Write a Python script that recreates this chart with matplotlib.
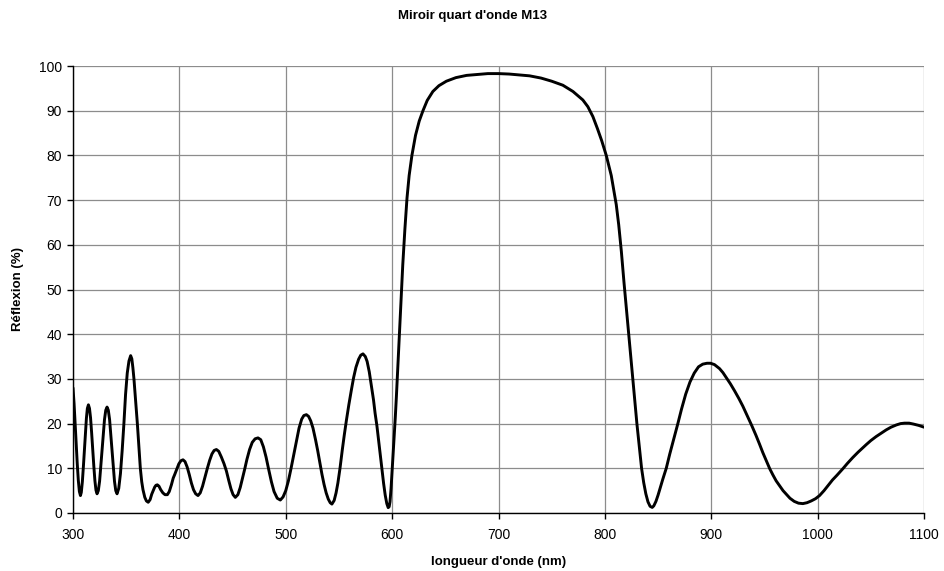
import matplotlib
matplotlib.use("Agg")
import matplotlib.pyplot as plt

plt.rcParams['font.family'] = ['Liberation Sans', 'DejaVu Sans']

title = "Miroir quart d'onde M13"
xlabel = "longueur d'onde (nm)"
ylabel = "Réflexion (%)"
xticks = [300, 400, 500, 600, 700, 800, 900, 1000, 1100]
yticks = [0, 10, 20, 30, 40, 50, 60, 70, 80, 90, 100]

wavelength_a = [300, 301, 302, 303, 304, 305, 306, 307, 307.8, 308.8, 309.8, 310.8,
                311.7, 312.6, 313.5, 314.5, 315.5, 316.5, 317.5, 318.5, 319.6, 320.6,
                321.6, 322.6, 323.8, 325.0, 326.1, 327.3, 328.5, 329.6, 330.8, 332.0,
                333.2, 334.4, 335.5, 336.7, 337.9, 339.0, 340.2, 341.4, 343.0, 344.6,
                346.2, 347.8, 349.4, 351.0, 352.6, 354.2, 355.3, 356.3, 357.3, 358.9,
                360.5, 361.9, 363.3, 364.6, 365.8, 367.5, 369.0, 370.7, 372.5, 374.0,
                375.2, 376.8, 378.0, 379.3, 380.8, 382.5, 384.5, 386.5, 388.7, 390.5,
                392.5, 394.2, 395.6, 397.5, 399.5, 401.5, 403.4, 405.3, 407.3, 409.3,
                411.3, 413.3, 415.3, 417.5, 419.6, 421.8, 424.0, 426.3, 428.5, 430.6,
                432.7, 434.8, 437.0, 439.5, 442.0, 444.2, 446.5, 448.5, 450.5, 452.6,
                455.0, 457.2, 459.4, 461.4, 463.5, 466.0, 468.5, 471.2, 473.9, 476.5,
                479.0, 481.5, 483.9, 486.5, 489.0, 492.0, 494.9, 497.5, 500.0, 502.5,
                505.0, 507.5, 510.0, 512.5, 515.0, 517.0, 519.4, 521.5, 523.5, 525.6,
                528.0, 530.0, 532.0, 534.0, 536.0, 538.0, 540.0, 541.8, 543.4]
reflexion_a = [28.0, 24.5, 20.0, 15.5, 11.0, 7.3, 4.8, 3.9, 4.6, 7.0, 10.5, 14.4,
               18.0, 21.2, 23.4, 24.2, 23.4, 21.3, 18.0, 14.2, 10.4, 7.2,
               5.1, 4.3, 5.0, 7.1, 10.3, 14.0, 17.7, 20.9, 23.0, 23.7,
               23.0, 20.9, 17.7, 14.0, 10.3, 7.1, 5.0, 4.3, 5.5, 8.8,
               13.9, 19.8, 26.5, 31.3, 34.0, 35.2, 34.5, 32.5, 30.0, 25.0,
               20.0, 15.0, 10.0, 7.0, 5.2, 3.5, 2.7, 2.4, 3.0, 4.2,
               4.9, 5.8, 6.2, 6.3, 6.0, 5.2, 4.5, 4.1, 4.1, 4.8,
               6.3, 7.8, 8.6, 9.8, 11.0, 11.7, 11.9, 11.5, 10.3, 8.6,
               6.7, 5.2, 4.3, 3.9, 4.5, 6.0, 8.0, 10.0, 11.8, 13.2,
               14.0, 14.2, 13.8, 12.5, 11.0, 9.4, 7.2, 5.4, 4.1, 3.5,
               4.1, 5.7, 7.8, 9.8, 12.0, 14.2, 15.8, 16.6, 16.8, 16.4,
               14.8, 12.5, 9.8, 7.0, 4.8, 3.3, 2.9, 3.6, 5.0, 7.2,
               10.0, 13.0, 16.0, 19.0, 21.0, 21.8, 22.0, 21.6, 20.6, 19.0,
               16.4, 14.0, 11.3, 8.7, 6.4, 4.5, 3.1, 2.3, 2.0]

wavelength_b = [545.5, 547.3, 549.0, 551.0, 553.2, 555.0, 557.0, 559.3, 561.6, 563.8,
                566.0, 568.5, 570.5, 572.6, 574.8, 576.5, 578.5, 580.5, 582.5, 584.0,
                585.7, 588.0, 590.4, 592.0, 593.5, 595.0, 596.3, 597.2, 598.0, 599.0,
                600.0, 601.0, 602.0, 603.0, 604.0, 605.0, 606.0, 607.0, 608.0, 609.0,
                610.0, 611.0, 612.0, 613.0, 614.0, 616.0, 618.6, 622.0, 625.5, 629.0,
                633.0, 638.3, 644.0, 651.0, 660.0, 670.0, 680.0, 690.0, 700.0, 710.0,
                720.0, 729.2, 740.0, 750.0, 760.5, 770.0, 779.3, 784.0, 788.7, 793.0,
                797.0, 801.3, 806.0, 810.7, 813.0, 815.5, 818.0, 820.3, 822.6, 824.5,
                826.3, 828.2, 830.1, 832.3, 834.5, 836.5, 838.5, 840.5, 842.5, 844.5]
reflexion_b = [2.8, 4.5, 6.7, 10.0, 14.2, 17.4, 20.7, 24.2, 27.4, 30.3,
               32.6, 34.4, 35.3, 35.6, 35.0, 33.9, 31.6, 28.5, 25.3, 22.3,
               19.5, 14.8, 10.0, 6.6, 4.0, 2.1, 1.2, 1.4, 2.5, 5.5,
               9.5, 13.5, 17.5, 21.5, 26.0, 31.0, 36.5, 41.5, 46.5, 51.0,
               55.5, 59.5, 63.5, 67.0, 70.5, 75.5, 80.0, 84.5, 87.7, 90.0,
               92.3, 94.3, 95.6, 96.6, 97.4, 97.9, 98.1, 98.3, 98.3, 98.2,
               98.0, 97.8, 97.3, 96.6, 95.7, 94.3, 92.4, 90.9, 88.7, 86.0,
               83.3, 80.0, 75.5, 69.0, 64.5, 58.5, 51.5, 45.5, 39.5, 34.5,
               29.8, 24.9, 20.0, 15.0, 10.0, 6.8, 4.3, 2.5, 1.5, 1.25]

wavelength_c = [846.0, 848.0, 850.0, 852.0, 854.5, 857.7, 861.0, 865.0, 868.6, 872.0,
                876.0, 880.0, 884.0, 888.0, 892.0, 896.0, 899.3, 903.0, 907.8, 911.0,
                914.1, 918.0, 922.0, 926.0, 929.7, 934.0, 938.0, 942.0, 945.4, 948.5,
                951.7, 955.0, 958.0, 961.0, 964.2, 967.5, 970.5, 974.0, 978.0, 982.0,
                986.1, 990.0, 994.0, 998.0, 1001.8, 1006.0, 1010.0, 1014.0, 1018.0, 1023.7,
                1028.0, 1033.0, 1038.0, 1042.0, 1045.7, 1050.0, 1055.0, 1060.0, 1064.5, 1069.0,
                1074.0, 1078.0, 1081.7, 1086.0, 1090.0, 1095.0, 1100.0]
reflexion_c = [1.6, 2.6, 4.0, 5.6, 7.6, 10.0, 13.2, 16.8, 20.0, 23.2,
               26.6, 29.3, 31.3, 32.7, 33.3, 33.5, 33.5, 33.2, 32.3, 31.4,
               30.3, 28.9, 27.3, 25.6, 23.9, 21.7, 19.6, 17.4, 15.4, 13.5,
               11.7, 9.9, 8.5, 7.2, 6.1, 5.0, 4.2, 3.3, 2.6, 2.2,
               2.1, 2.3, 2.7, 3.2, 3.9, 5.0, 6.2, 7.4, 8.4, 9.9,
               11.1, 12.4, 13.6, 14.5, 15.3, 16.2, 17.1, 17.9, 18.6, 19.2,
               19.7, 20.0, 20.1, 20.1, 19.9, 19.6, 19.2]

wavelength = wavelength_a + wavelength_b + wavelength_c
reflexion = reflexion_a + reflexion_b + reflexion_c

W, H = 945, 571
fig = plt.figure(figsize=(W / 100, H / 100), dpi=100)
L, R, T, B = 73, 924, 66, 513
ax = fig.add_axes([L / W, 1 - B / H, (R - L) / W, (B - T) / H])

ax.plot(wavelength, reflexion, color='black', lw=2.1, solid_joinstyle='round',
        solid_capstyle='round', zorder=3)

ax.set_xlim(300, 1100)
ax.set_ylim(0, 100)
ax.set_xticks(xticks)
ax.set_yticks(yticks)
ax.grid(True, color='#8c8c8c', lw=0.9)
ax.set_axisbelow(True)
for s in ['top', 'right']:
    ax.spines[s].set_visible(False)
for s in ['left', 'bottom']:
    ax.spines[s].set_color('black')
    ax.spines[s].set_linewidth(1.0)
ax.tick_params(direction='out', length=4, width=1, colors='black', labelsize=10)
ax.tick_params(axis='x', pad=7)
ax.tick_params(axis='y', pad=4)

fig.text(0.5, 1 - 16 / H, title, ha='center', va='center', fontsize=9.5, fontweight='bold')
fig.text((L + R) / 2 / W, 1 - 562 / H, xlabel, ha='center', va='center', fontsize=9.5,
         fontweight='bold')
fig.text(18 / W, 1 - 289 / H, ylabel, ha='center', va='center', rotation=90, fontsize=9.5,
         fontweight='bold')

fig.savefig('out.png', dpi=100)
